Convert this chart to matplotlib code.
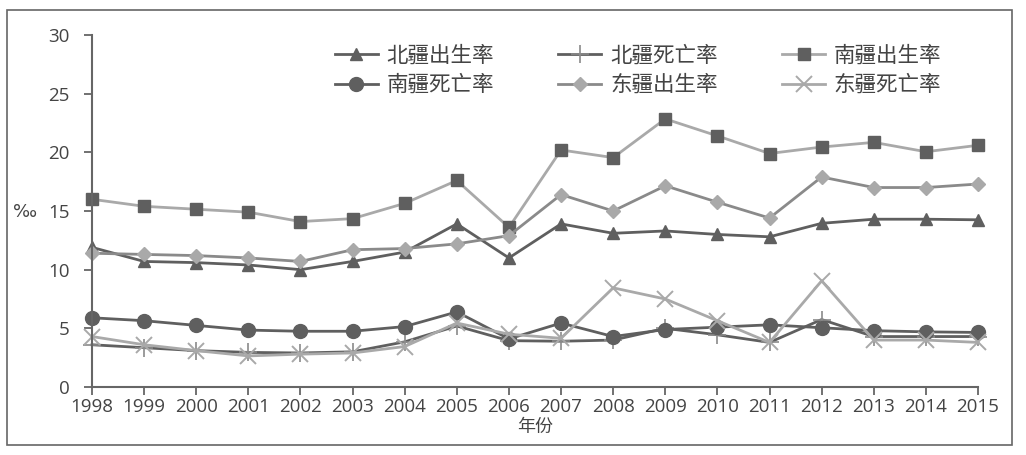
import matplotlib
matplotlib.use("Agg")
import matplotlib.pyplot as plt
from matplotlib.patches import Rectangle

plt.rcParams['font.family'] = ['Noto Sans CJK SC', 'DejaVu Sans']

years = list(range(1998, 2016))
north_birth = [11.9, 10.7, 10.6, 10.4, 10.0, 10.7, 11.5, 13.9, 11.0, 13.9, 13.1, 13.3, 13.0, 12.8, 13.95, 14.3, 14.3, 14.25]
north_death = [3.6, 3.35, 3.1, 2.95, 2.9, 3.0, 3.85, 5.2, 3.95, 3.9, 4.0, 5.0, 4.45, 3.8, 5.75, 4.3, 4.3, 4.3]
south_birth = [16.0, 15.4, 15.15, 14.9, 14.1, 14.35, 15.65, 17.6, 13.6, 20.2, 19.55, 22.85, 21.4, 19.9, 20.45, 20.85, 20.05, 20.6]
south_death = [5.9, 5.65, 5.25, 4.85, 4.75, 4.75, 5.15, 6.4, 4.1, 5.45, 4.3, 4.9, 5.1, 5.3, 5.05, 4.8, 4.7, 4.65]
east_birth = [11.4, 11.3, 11.2, 11.0, 10.7, 11.7, 11.8, 12.2, 12.9, 16.4, 15.0, 17.15, 15.75, 14.4, 17.9, 17.0, 17.0, 17.3]
east_death = [4.3, 3.6, 3.1, 2.65, 2.8, 2.9, 3.45, 5.45, 4.5, 4.15, 8.45, 7.5, 5.65, 3.8, 9.05, 4.0, 4.0, 3.8]
yticks = [0, 5, 10, 15, 20, 25, 30]

dark = '#5f5f5f'
mid = '#8a8a8a'
light = '#a9a9a9'

fig = plt.figure(figsize=(10.26, 4.55), dpi=100)
fig.patches.append(Rectangle((7/1026, 1-445/455), (1012-7)/1026, (445-10)/455,
                             transform=fig.transFigure, fill=False, edgecolor='#666666', lw=1.2))
ax = fig.add_axes([92/1026, 1-387/455, (978-92)/1026, (387-35)/455])

lw = 2.0
h1, = ax.plot(years, north_birth, color=dark, lw=lw, marker='^', ms=9, mfc=dark, mec=dark, label='北疆出生率')
h2, = ax.plot(years, north_death, color=dark, lw=lw, marker='+', ms=13, mew=1.2, mec=mid, label='北疆死亡率')
h3, = ax.plot(years, south_birth, color=light, lw=lw, marker='s', ms=9, mfc=dark, mec=dark, label='南疆出生率')
h4, = ax.plot(years, south_death, color=dark, lw=lw, marker='o', ms=10, mfc=dark, mec=dark, label='南疆死亡率')
h5, = ax.plot(years, east_birth, color=mid, lw=lw, marker='D', ms=7, mfc=light, mec=light, label='东疆出生率')
h6, = ax.plot(years, east_death, color=light, lw=lw, marker='x', ms=11, mew=1.4, mec=light, label='东疆死亡率')

ax.set_xlim(1998, 2015)
ax.set_ylim(0, 30)
ax.set_yticks(yticks)
ax.set_xticks(years)
for s in ['top', 'right']:
    ax.spines[s].set_visible(False)
for s in ['left', 'bottom']:
    ax.spines[s].set_color('#666666')
    ax.spines[s].set_linewidth(1.5)
ax.tick_params(direction='out', length=6, width=1.3, color='#666666', labelcolor='#444444',
               labelsize=13.5, pad=2)
for lab in ax.get_xticklabels() + ax.get_yticklabels():
    lab.set_family(['Open Sans', 'DejaVu Sans'])
ax.tick_params(axis='y', pad=10)
for ln in ax.lines:
    ln.set_clip_on(False)

ax.set_xlabel('年份', fontsize=13, color='#444444', labelpad=1)
fig.text(25/1026, 1-212/455, '‰', fontsize=13, color='#444444', ha='center', va='center',
         family=['DejaVu Sans'])

leg = ax.legend(handles=[h1, h4, h2, h5, h3, h6], ncol=3, loc='upper left',
                bbox_to_anchor=(326/1026, 1-36/455), bbox_transform=fig.transFigure,
                frameon=False, fontsize=15.5, handlelength=2.0, columnspacing=3.0,
                labelspacing=0.35, handletextpad=0.4, borderaxespad=0)
for t in leg.get_texts():
    t.set_color('#444444')

fig.savefig('out.png', dpi=100)
